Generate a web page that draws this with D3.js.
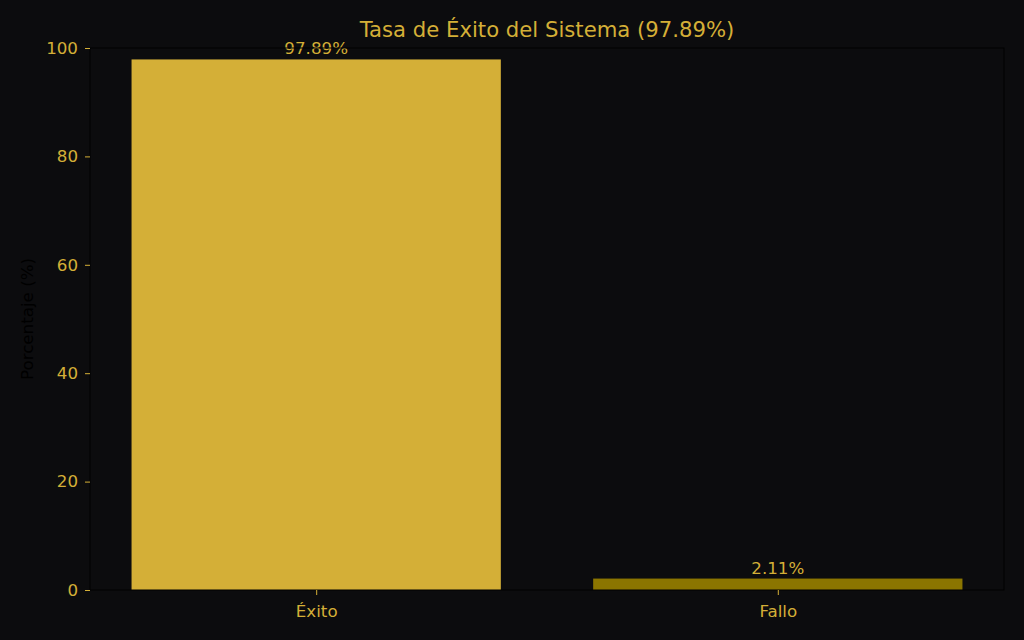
<!DOCTYPE html>
<html><head><meta charset="utf-8">
<script src="https://cdn.jsdelivr.net/npm/d3@7"></script>
<style>
html,body{margin:0;padding:0;background:#0c0c0e;}
svg{display:block;font-family:"DejaVu Sans",sans-serif;}
</style></head>
<body>
<svg id="chart" width="1024" height="640"></svg>
<script>
const categories = ["Éxito", "Fallo"];
const values = [97.89, 2.11];
const barColors = ["#D4AF37", "#8B7500"];
const yTicks = [0, 20, 40, 60, 80, 100];
const title = "Tasa de Éxito del Sistema (97.89%)";
const yLabel = "Porcentaje (%)";

const W = 1024, H = 640;
const m = {left: 90, right: 20, top: 48, bottom: 50};
const gold = "#D4AF37";
const fs = 16.7;
const svg = d3.select("#chart");
svg.append("rect").attr("width", W).attr("height", H).attr("fill", "#0c0c0e");

const x = d3.scaleLinear().domain([-0.49, 1.49]).range([m.left, W - m.right]);
const y = d3.scaleLinear().domain([0, 100]).range([H - m.bottom, m.top]);
const bw = 0.8;

const g = svg.append("g");
g.selectAll("rect.bar").data(values).join("rect")
  .attr("class", "bar")
  .attr("x", (d, i) => x(i - bw / 2))
  .attr("width", (d, i) => x(i + bw / 2) - x(i - bw / 2))
  .attr("y", d => y(d))
  .attr("height", d => y(0) - y(d))
  .attr("fill", (d, i) => barColors[i]);

// frame
svg.append("rect")
  .attr("x", m.left).attr("y", m.top)
  .attr("width", W - m.right - m.left).attr("height", H - m.bottom - m.top)
  .attr("fill", "none").attr("stroke", "#000").attr("stroke-width", 1);

g.selectAll("text.val").data(values).join("text")
  .attr("class", "val")
  .attr("x", (d, i) => x(i))
  .attr("y", d => y(d) - 5)
  .attr("text-anchor", "middle")
  .attr("font-size", fs)
  .attr("fill", gold)
  .text(d => d.toFixed(2) + "%");

// axes
const yAxis = d3.axisLeft(y).tickValues(yTicks).tickSize(5).tickPadding(7).tickFormat(d3.format("d"));
const ya = svg.append("g").attr("transform", `translate(${m.left},0)`).call(yAxis);
ya.select(".domain").remove();
ya.selectAll("line").attr("stroke", gold);
ya.selectAll("text").attr("fill", gold).attr("font-size", fs).attr("font-family", "DejaVu Sans");

const xAxis = d3.axisBottom(x).tickValues([0, 1]).tickSize(5).tickPadding(5).tickFormat(i => categories[i]);
const xa = svg.append("g").attr("transform", `translate(0,${H - m.bottom})`).call(xAxis);
xa.select(".domain").remove();
xa.selectAll("line").attr("stroke", gold);
xa.selectAll("text").attr("fill", gold).attr("font-size", fs).attr("font-family", "DejaVu Sans")
  .attr("y", 27).attr("dy", 0);

svg.append("text")
  .attr("x", (m.left + W - m.right) / 2).attr("y", 37)
  .attr("text-anchor", "middle").attr("font-size", 21.2).attr("fill", gold)
  .text(title);

svg.append("text")
  .attr("transform", `translate(33,${(m.top + H - m.bottom) / 2}) rotate(-90)`)
  .attr("text-anchor", "middle").attr("font-size", fs).attr("fill", "#000")
  .text(yLabel);
</script>
</body></html>
